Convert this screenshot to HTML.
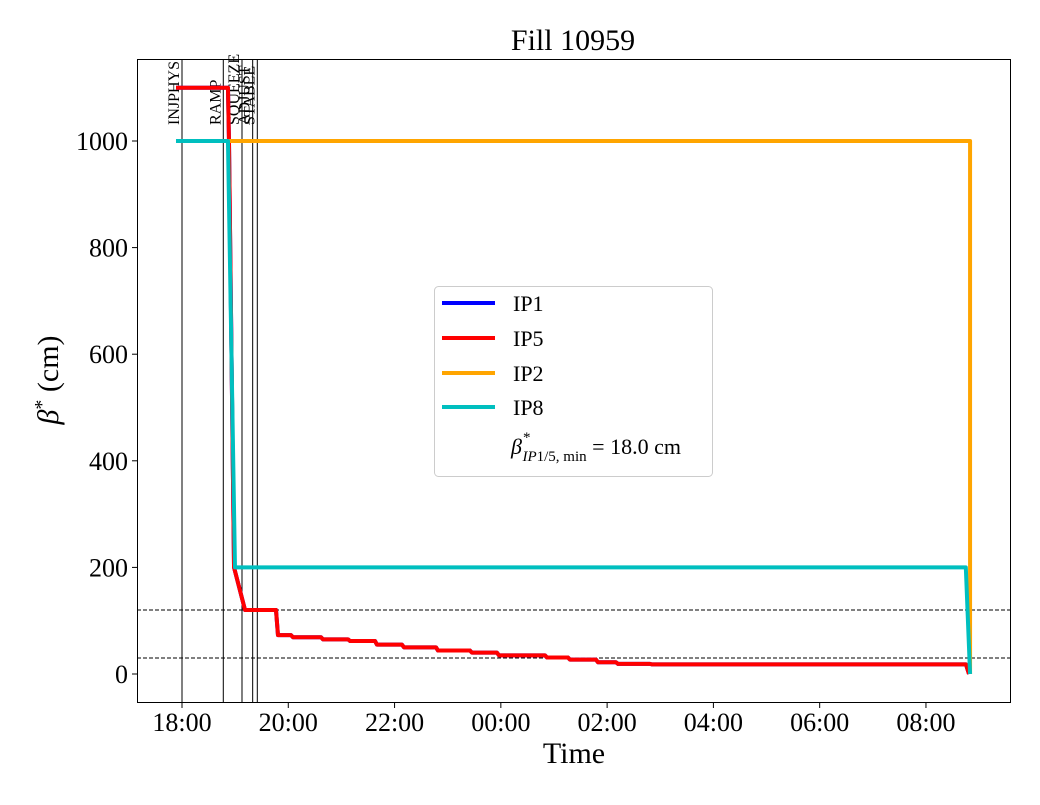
<!DOCTYPE html>
<html><head><meta charset="utf-8"><style>
body{margin:0;background:#fff}
svg text{font-family:"Liberation Serif","DejaVu Serif",serif;fill:#000}
</style></head><body>
<svg id="c" width="1040" height="800" viewBox="0 0 1040 800">
<rect x="0" y="0" width="1040" height="800" fill="#fff"/>
<text x="573" y="50" font-size="30" text-anchor="middle">Fill 10959</text>
<g id="plot"></g>
<rect x="137.5" y="59.5" width="873" height="643" fill="none" stroke="#000" stroke-width="1"/>
<text x="574" y="763" font-size="30" text-anchor="middle">Time</text>
<text transform="translate(58,380) rotate(-90)" font-size="30" text-anchor="middle"><tspan font-style="italic">β</tspan><tspan dy="-10" font-size="20">*</tspan><tspan dy="10"> (cm)</tspan></text>
<g>
<rect x="434.5" y="286.5" width="278" height="190" rx="4" fill="#fff" stroke="#ccc"/>
<line x1="442" y1="303" x2="495" y2="303" stroke="#0000ff" stroke-width="4"/>
<text x="513" y="311" font-size="22">IP1</text>
<line x1="442" y1="338" x2="495" y2="338" stroke="#ff0000" stroke-width="4"/>
<text x="513" y="346" font-size="22">IP5</text>
<line x1="442" y1="373" x2="495" y2="373" stroke="#ffa500" stroke-width="4"/>
<text x="513" y="381" font-size="22">IP2</text>
<line x1="442" y1="407" x2="495" y2="407" stroke="#00bfbf" stroke-width="4"/>
<text x="513" y="415" font-size="22">IP8</text>
<text x="511" y="454" font-size="22"><tspan font-style="italic">β</tspan><tspan dx="1" dy="-12" font-size="15">*</tspan><tspan dx="-8" dy="19" font-size="15" font-style="italic">IP</tspan><tspan font-size="15">1/5, min</tspan><tspan dy="-7"> = 18.0 cm</tspan></text>
</g>
</svg>
<script>
const yTicks=[0,200,400,600,800,1000];
const xTickHours=[0,2,4,6,8,10,12,14];
const xTickLabels=["18:00","20:00","22:00","00:00","02:00","04:00","06:00","08:00"];
const phaseNames=["INJPHYS","RAMP","SQUEEZE","ADJUST","STABLE"];
const phaseHours=[0,0.777,1.129,1.33,1.417];
const hlineValues=[120,30];
const ip5Hours=[-0.113,0.865,0.884,0.979,1.186,1.769,1.806,2.051,2.089,2.616,2.653,3.124,3.161,3.632,3.669,4.14,4.177,4.78,4.817,5.42,5.457,5.927,5.965,6.831,6.868,7.263,7.301,7.79,7.828,8.167,8.205,8.807,8.845,14.753,14.81];
const ip5Values=[1100,1100,1000,200,120,120,73,73,69,69,65,65,62,62,55,55,50,50,44,44,40,40,35,35,31,31,27,27,22,22,19,19,18,18,0];
const ip1Hours=ip5Hours.slice();
const ip1Values=ip5Values.slice();
const ip2Hours=[0.865,14.83,14.83];
const ip2Values=[1000,1000,0];
const ip8Hours=[-0.113,0.865,0.997,14.75,14.83];
const ip8Values=[1000,1000,200,200,0];

const NS="http://www.w3.org/2000/svg";
const X=h=>182+h*53.14;
const Y=v=>674-v*0.533;
const g=document.getElementById('plot');
function mk(tag,attrs){const e=document.createElementNS(NS,tag);for(const k in attrs)e.setAttribute(k,attrs[k]);g.appendChild(e);return e;}

yTicks.forEach(v=>{
  const t=mk('line',{x1:132,x2:137,y1:Y(v),y2:Y(v),stroke:'#000'});
  
  
  const l=mk('text',{x:128,y:Y(v)+9,'font-size':26,'text-anchor':'end'});
  l.textContent=v;
  
  
});
xTickHours.forEach((h,i)=>{
  const t=mk('line',{x1:X(h),x2:X(h),y1:703,y2:708,stroke:'#000'});
  
  
  const l=mk('text',{x:X(h),y:731,'font-size':26,'text-anchor':'middle'});
  l.textContent=xTickLabels[i];
  
  
});
hlineValues.forEach(v=>{
  const l=mk('line',{x1:137,x2:1010,y1:Y(v),y2:Y(v),stroke:'#000','stroke-width':1,'stroke-dasharray':'4,2'});
  
  
});
phaseHours.forEach((h,i)=>{
  const l=mk('line',{x1:X(h),x2:X(h),y1:59,y2:703,stroke:'#000','stroke-width':1});
  
  
  const t=mk('text',{transform:`translate(${X(h)-3},125) rotate(-90)`,'font-size':16});
  t.textContent=phaseNames[i];
  
  
});
function series(hs,vs,color,name){
  const p=mk('polyline',{points:hs.map((h,i)=>X(h)+','+Y(vs[i])).join(' '),fill:'none',stroke:color,'stroke-width':4,'stroke-linejoin':'round'});
  
  
}
series(ip1Hours,ip1Values,'#0000ff','series-ip1');
series(ip5Hours,ip5Values,'#ff0000','series-ip5');
series(ip2Hours,ip2Values,'#ffa500','series-ip2');
series(ip8Hours,ip8Values,'#00bfbf','series-ip8');
</script>
</body></html>
